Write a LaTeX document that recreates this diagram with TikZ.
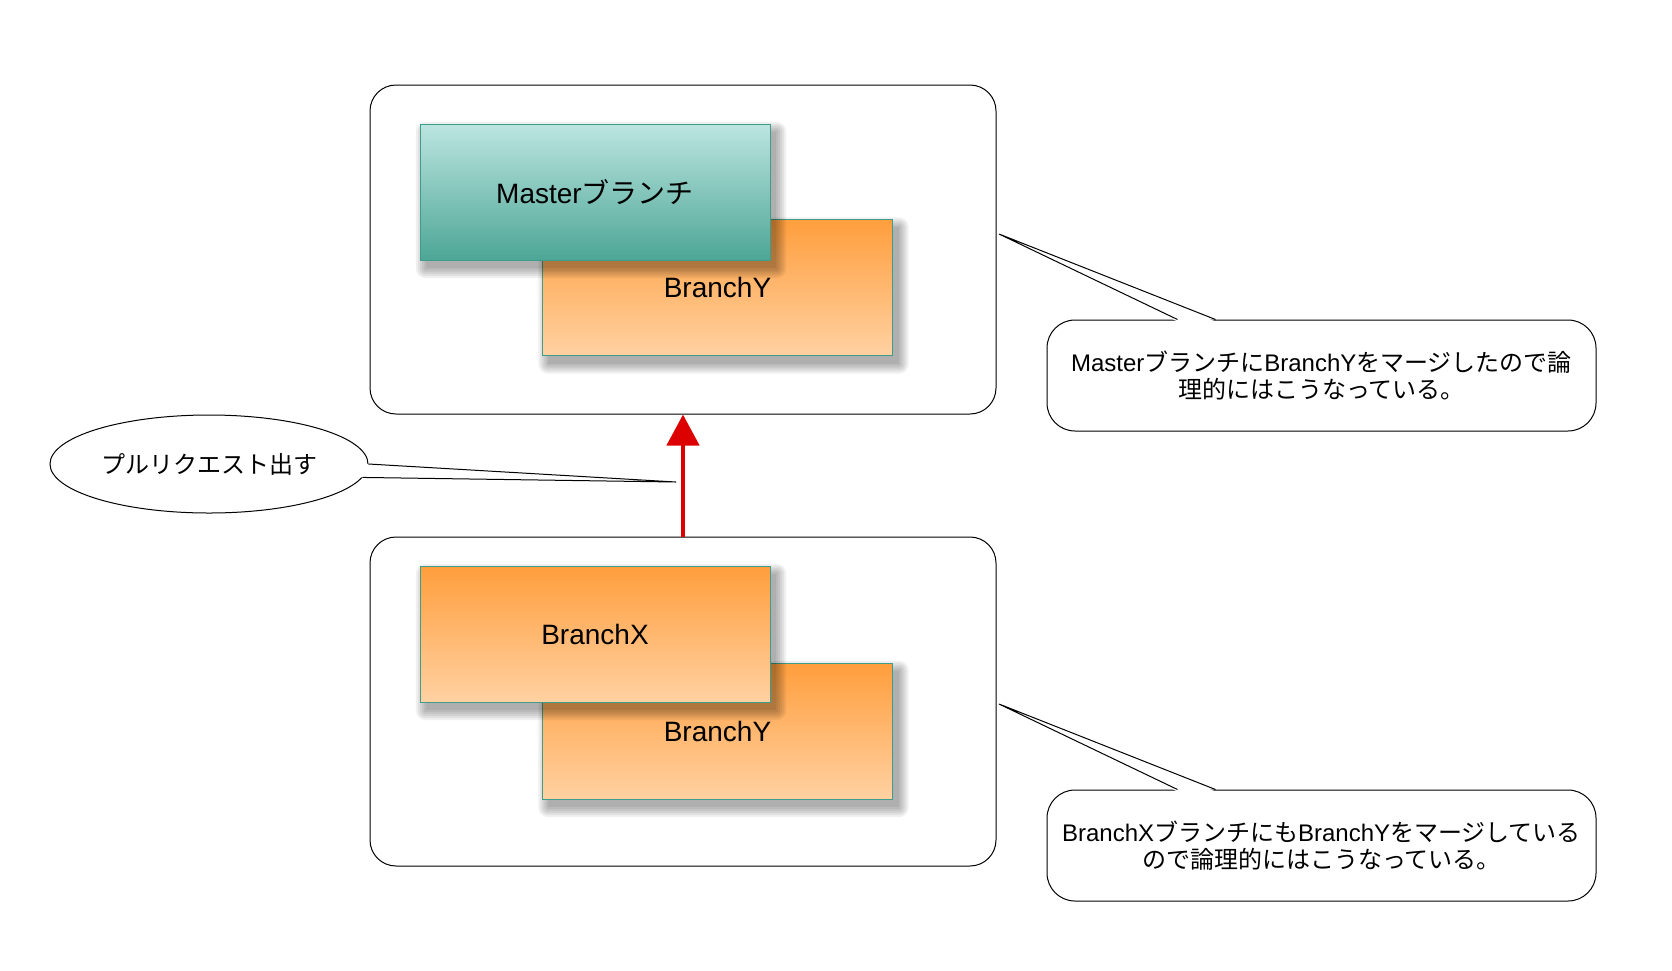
\documentclass[tikz,border=0pt]{standalone}
\usepackage{fontspec}
\setmainfont{Liberation Sans}
\newfontfamily\jp{Noto Sans CJK JP}
\usetikzlibrary{arrows.meta,shapes.geometric,calc}
\definecolor{tealtop}{HTML}{BCE5E0}
\definecolor{tealbot}{HTML}{4DA696}
\definecolor{orgtop}{HTML}{FF9E3D}
\definecolor{orgbot}{HTML}{FFD1A2}
\definecolor{edgeteal}{HTML}{3E9C8A}
\definecolor{arrowred}{HTML}{DD0000}
\newcommand\myboxshadow[1]{%
  \foreach \d in {10,8,6,4,2,0}{%
    \fill[black,opacity=0.06,rounded corners=\d pt]
      ($(#1.north west)+(6-\d,8-\d)$) rectangle ($(#1.south east)+(6+\d,8+\d)$);}}
\begin{document}
\begin{tikzpicture}[x=1pt,y=-1pt,
  outerbox/.style={draw=black,line width=1pt,rounded corners=26pt,fill=white,
    minimum width=626pt,minimum height=329pt,inner sep=0pt},
  boxgeom/.style={minimum width=350pt,minimum height=136pt,inner sep=0pt},
  branchbox/.style={boxgeom,draw=edgeteal,line width=1pt,font=\fontsize{28}{32}\selectfont},
  masterfill/.style={top color=tealtop,bottom color=tealbot},
  orangefill/.style={top color=orgtop,bottom color=orgbot},
  callout/.style={draw=black,line width=1pt,rounded corners=28pt,fill=white,
    minimum width=549pt,minimum height=111pt,inner sep=0pt,align=center,
    font=\fontsize{24}{27}\selectfont},
  tailline/.style={draw=black,line width=1pt,line join=miter},
  redarrow/.style={draw=arrowred,line width=4.5pt,-{Triangle[width=32pt,length=31pt]}},
]
\useasboundingbox (0,0) rectangle (1672,970);
\fill[white] (0,0) rectangle (1672,970);

% top group
\node[outerbox] (top) at (683,249.5) {};
\path node[boxgeom] (ytop) at (717.5,287.5) {};
\myboxshadow{ytop}
\node[branchbox,orangefill] (ytop) at (717.5,287.5) {BranchY};
\path node[boxgeom] (master) at (595,192) {};
\myboxshadow{master}
\node[branchbox,masterfill] (master) at (595,192) {Master{\jp ブランチ}};

% bottom group
\node[outerbox] (bot) at (683,701.5) {};
\path node[boxgeom] (ybot) at (717.5,731) {};
\myboxshadow{ybot}
\node[branchbox,orangefill] (ybot) at (717.5,731) {BranchY};
\path node[boxgeom] (bx) at (595,634) {};
\myboxshadow{bx}
\node[branchbox,orangefill] (bx) at (595,634) {BranchX};

% arrow
\draw[redarrow] (bot.north) -- (top.south);

% ellipse callout
\node[ellipse,draw=black,line width=1pt,fill=white,minimum width=318pt,minimum height=98pt,
  inner sep=0pt,font=\fontsize{24}{28}\selectfont] (pr) at (209,464) {\jp プルリクエスト出す};
\coordinate (prtip) at (676,482);
\fill[white] ([xshift=-2pt]pr.east) -- (prtip) -- ([xshift=-2pt]pr.-5) -- cycle;
\draw[tailline] (pr.east) -- (prtip) -- (pr.-5);

% right callouts
\node[callout] (c1) at (1321.5,375.5) {Master{\jp ブランチに}BranchY{\jp をマージしたので論}\\{\jp 理的にはこうなっている。}};
\coordinate (t1) at (999,234);
\fill[white] ([xshift=131pt,yshift=-2pt]c1.north west) -- (t1) -- ([xshift=169pt,yshift=-2pt]c1.north west) -- cycle;
\draw[tailline] ([xshift=131pt]c1.north west) -- (t1) -- ([xshift=169pt]c1.north west);

\node[callout] (c2) at (1321.5,845.5) {BranchX{\jp ブランチにも}BranchY{\jp をマージしている}\\{\jp ので論理的にはこうなっている。}};
\coordinate (t2) at (999,704);
\fill[white] ([xshift=131pt,yshift=-2pt]c2.north west) -- (t2) -- ([xshift=169pt,yshift=-2pt]c2.north west) -- cycle;
\draw[tailline] ([xshift=131pt]c2.north west) -- (t2) -- ([xshift=169pt]c2.north west);
\end{tikzpicture}
\end{document}
